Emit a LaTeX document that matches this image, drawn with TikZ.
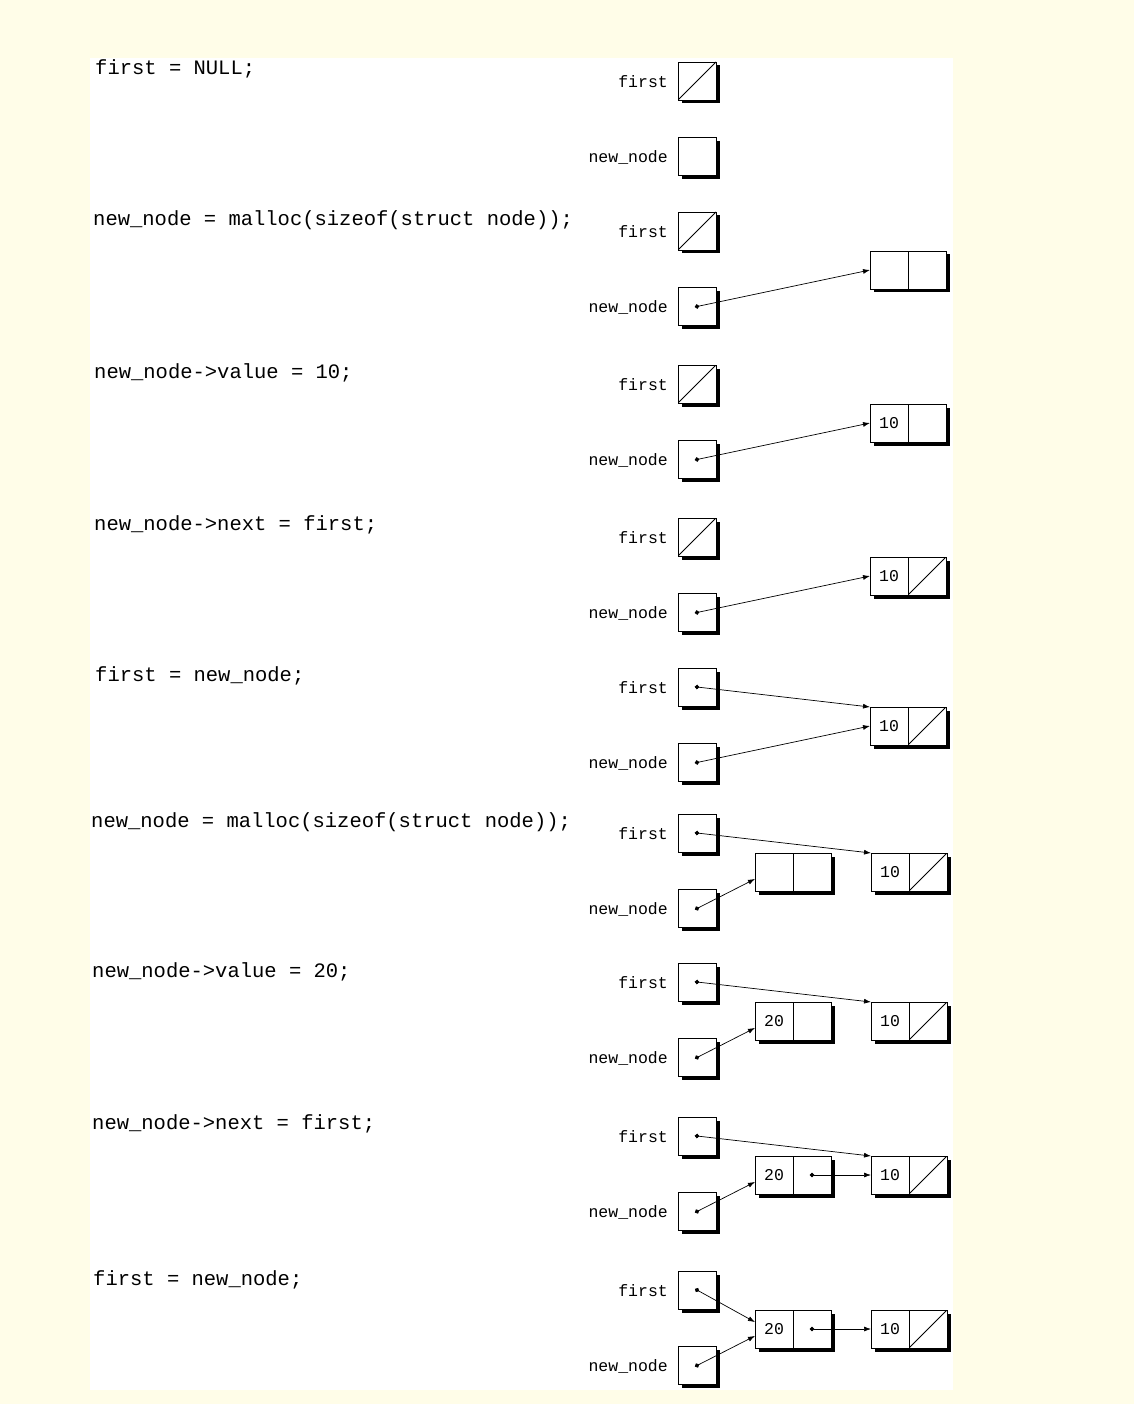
\documentclass[tikz,border=0pt]{standalone}
\usepackage{fontspec}
\setmonofont{Liberation Mono}
\usetikzlibrary{arrows.meta, positioning, shadows}
\definecolor{pagecream}{HTML}{FFFDE8}

\begin{document}
\begin{tikzpicture}[
    x=1pt, y=-1pt,
    % Define the style for each block
    code/.style={anchor=base west, inner sep=0pt, yshift=-2pt, font=\ttfamily\fontsize{20.5}{24}\selectfont},
    varname/.style={inner sep=0pt, text height=1.5ex, text depth=0.25ex, yshift=-3.5pt, font=\ttfamily\fontsize{16.5}{20}\selectfont},
    ptr/.style={rectangle, draw, fill=white, line width=0.9pt, minimum size=38pt, inner sep=0pt, outer sep=0pt,
        font=\ttfamily\fontsize{16.5}{20}\selectfont,
        drop shadow={shadow xshift=3.5pt, shadow yshift=-3.5pt, fill=black, opacity=1}},
    nullptr/.style={ptr, path picture={\draw [line width=0.9pt] (path picture bounding box.south west) -- (path picture bounding box.north east);}},
    connector/.style={{Circle[length=4.5pt]}-{Latex[length=7pt, width=5pt]}, shorten <=-2.25pt, line width=0.7pt},
    node distance=37.5pt
]

% Page and white sheet
\fill [pagecream] (0,0) rectangle (1134,1404);
\fill [white] (90,58) rectangle (953,1390);

% Panel 1
\node [code] (Code1) at (95,73) {first = NULL;};
\node [nullptr] (First1) at (697,81) {};
\node [ptr, below=of First1] (NewNode1) {};
\node [varname, left=10pt of First1] (FirstLbl1) {first};
\node [varname, left=10pt of NewNode1] (NewLbl1) {new\_node};

% Panel 2
\node [code] (Code2) at (93,224) {new\_node = malloc(sizeof(struct node));};
\node [nullptr] (First2) at (697,231) {};
\node [ptr, below=of First2] (NewNode2) {};
\node [varname, left=10pt of First2] (FirstLbl2) {first};
\node [varname, left=10pt of NewNode2] (NewLbl2) {new\_node};
\node [ptr] (TenVal2) at (889,270) {};
\node [ptr, right=0pt of TenVal2] (TenNext2) {};
\draw [connector] (NewNode2.center) -- (TenVal2.west);

% Panel 3
\node [code] (Code3) at (94,376) {new\_node->value = 10;};
\node [nullptr] (First3) at (697,384) {};
\node [ptr, below=of First3] (NewNode3) {};
\node [varname, left=10pt of First3] (FirstLbl3) {first};
\node [varname, left=10pt of NewNode3] (NewLbl3) {new\_node};
\node [ptr] (TenVal3) at (889,423) {10};
\node [ptr, right=0pt of TenVal3] (TenNext3) {};
\draw [connector] (NewNode3.center) -- (TenVal3.west);

% Panel 4
\node [code] (Code4) at (94,528) {new\_node->next = first;};
\node [nullptr] (First4) at (697,537) {};
\node [ptr, below=of First4] (NewNode4) {};
\node [varname, left=10pt of First4] (FirstLbl4) {first};
\node [varname, left=10pt of NewNode4] (NewLbl4) {new\_node};
\node [ptr] (TenVal4) at (889,576) {10};
\node [nullptr, right=0pt of TenVal4] (TenNext4) {};
\draw [connector] (NewNode4.center) -- (TenVal4.west);

% Panel 5
\node [code] (Code5) at (95,679) {first = new\_node;};
\node [ptr] (First5) at (697,687) {};
\node [ptr, below=of First5] (NewNode5) {};
\node [varname, left=10pt of First5] (FirstLbl5) {first};
\node [varname, left=10pt of NewNode5] (NewLbl5) {new\_node};
\node [ptr] (TenVal5) at (889,726) {10};
\node [nullptr, right=0pt of TenVal5] (TenNext5) {};
\draw [connector] (First5.center) -- (TenVal5.north west);
\draw [connector] (NewNode5.center) -- (TenVal5.west);

% Panel 6
\node [code] (Code6) at (91,825) {new\_node = malloc(sizeof(struct node));};
\node [ptr] (First6) at (697,833) {};
\node [ptr, below=of First6] (NewNode6) {};
\node [varname, left=10pt of First6] (FirstLbl6) {first};
\node [varname, left=10pt of NewNode6] (NewLbl6) {new\_node};
\node [ptr] (TwentyVal6) at (774,872) {};
\node [ptr, right=0pt of TwentyVal6] (TwentyNext6) {};
\node [ptr] (TenVal6) at (890,872) {10};
\node [nullptr, right=0pt of TenVal6] (TenNext6) {};
\draw [connector] (First6.center) -- (TenVal6.north west);
\draw [connector] (NewNode6.center) -- (TwentyVal6.200);

% Panel 7
\node [code] (Code7) at (92,975) {new\_node->value = 20;};
\node [ptr] (First7) at (697,982) {};
\node [ptr, below=of First7] (NewNode7) {};
\node [varname, left=10pt of First7] (FirstLbl7) {first};
\node [varname, left=10pt of NewNode7] (NewLbl7) {new\_node};
\node [ptr] (TwentyVal7) at (774,1021) {20};
\node [ptr, right=0pt of TwentyVal7] (TwentyNext7) {};
\node [ptr] (TenVal7) at (890,1021) {10};
\node [nullptr, right=0pt of TenVal7] (TenNext7) {};
\draw [connector] (First7.center) -- (TenVal7.north west);
\draw [connector] (NewNode7.center) -- (TwentyVal7.200);

% Panel 8
\node [code] (Code8) at (92,1127) {new\_node->next = first;};
\node [ptr] (First8) at (697,1136) {};
\node [ptr, below=of First8] (NewNode8) {};
\node [varname, left=10pt of First8] (FirstLbl8) {first};
\node [varname, left=10pt of NewNode8] (NewLbl8) {new\_node};
\node [ptr] (TwentyVal8) at (774,1175) {20};
\node [ptr, right=0pt of TwentyVal8] (TwentyNext8) {};
\node [ptr] (TenVal8) at (890,1175) {10};
\node [nullptr, right=0pt of TenVal8] (TenNext8) {};
\draw [connector] (First8.center) -- (TenVal8.north west);
\draw [connector] (NewNode8.center) -- (TwentyVal8.200);
\draw [connector] (TwentyNext8.center) -- (TenVal8.west);

% Panel 9
\node [code] (Code9) at (93,1283) {first = new\_node;};
\node [ptr] (First9) at (697,1290) {};
\node [ptr, below=of First9] (NewNode9) {};
\node [varname, left=10pt of First9] (FirstLbl9) {first};
\node [varname, left=10pt of NewNode9] (NewLbl9) {new\_node};
\node [ptr] (TwentyVal9) at (774,1329) {20};
\node [ptr, right=0pt of TwentyVal9] (TwentyNext9) {};
\node [ptr] (TenVal9) at (890,1329) {10};
\node [nullptr, right=0pt of TenVal9] (TenNext9) {};
\draw [connector] (First9.center) -- (TwentyVal9.160);
\draw [connector] (NewNode9.center) -- (TwentyVal9.200);
\draw [connector] (TwentyNext9.center) -- (TenVal9.west);
\end{tikzpicture}
\end{document}
